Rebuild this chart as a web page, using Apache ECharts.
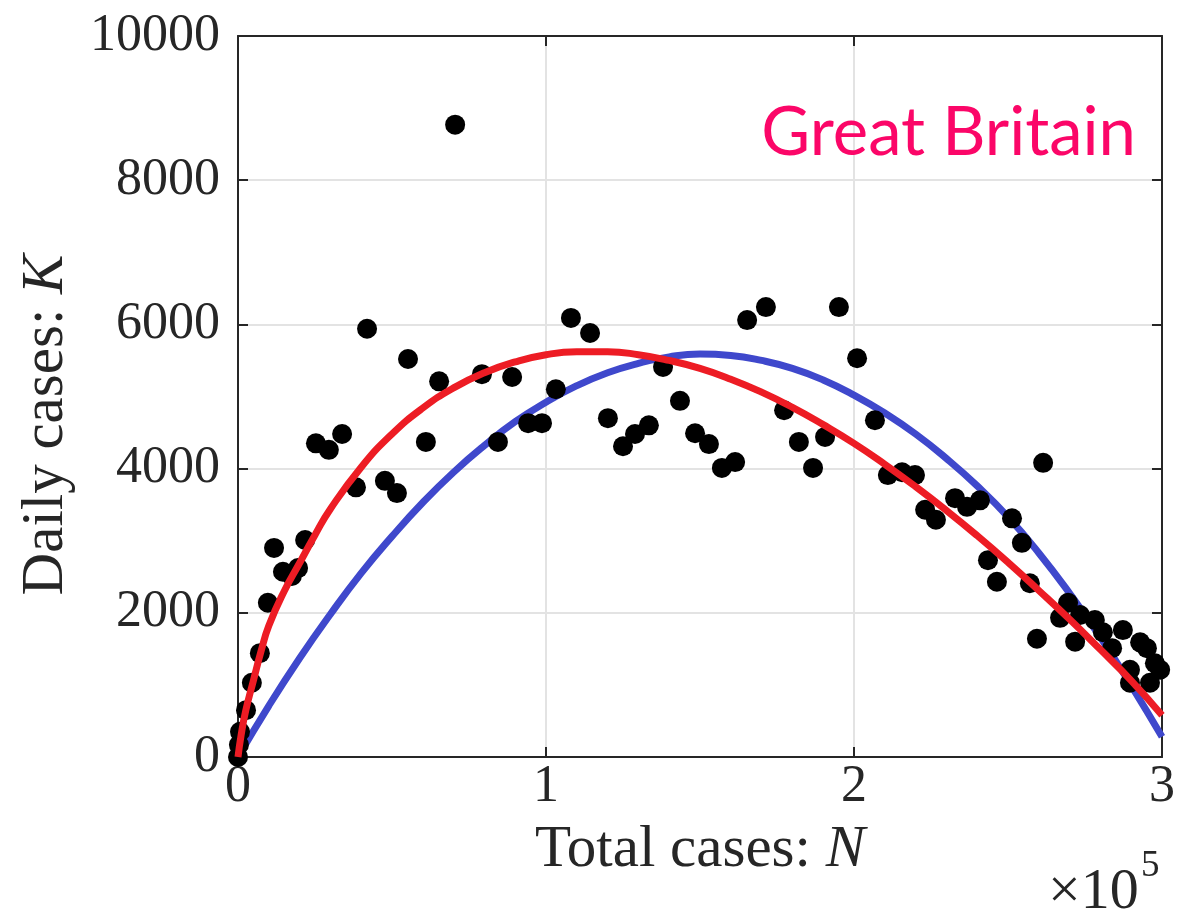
<!DOCTYPE html>
<html>
<head>
<meta charset="utf-8">
<script src="https://cdn.jsdelivr.net/npm/echarts@6/dist/echarts.min.js"></script>
<style>
    html, body { margin: 0; padding: 0; background: #fff; }
    #chart { width: 1178px; height: 917px; }
</style>
</head>
<body>
<div id="chart"></div>
<script>
// observed points: total cases N, daily cases K
var pointsN = [0, 300, 650, 2600, 4500, 7100, 9700, 11700, 14600, 17500, 19500, 21800, 25300, 29500, 33800, 38300, 41900, 47700, 51600, 55200,
    61000, 65300, 70500, 79200, 84400, 89000, 94200, 98700, 103200, 108100, 114300, 120100, 125000, 128900, 133400, 138000, 143500, 148400, 152900, 157100,
    161400, 165300, 171400, 177300, 182100, 186700, 190600, 195100, 201000, 206800, 211000, 215600, 219800, 223100, 226600, 232800, 236700, 240900, 243500, 246400,
    251300, 254500, 257100, 259400, 261400, 266900, 269500, 271800, 273400, 278200, 280800, 283800, 287300, 289600, 289600, 292900, 295100, 296100, 297700, 299400];
var pointsK = [0, 170, 350, 650, 1030, 1440, 2140, 2900, 2570, 2510, 2620, 3010, 4350, 4260, 4480, 3740, 5940, 3830, 3660, 5520,
    4370, 5210, 8770, 5310, 4370, 5270, 4630, 4630, 5100, 6090, 5880, 4700, 4310, 4480, 4600, 5410, 4940, 4490, 4340, 4010,
    4090, 6060, 6240, 4810, 4370, 4010, 4440, 6240, 5530, 4670, 3910, 3950, 3910, 3430, 3290, 3590, 3470, 3560, 2730, 2430,
    3310, 2970, 2410, 1640, 4080, 1930, 2140, 1600, 1970, 1900, 1730, 1510, 1760, 1210, 1030, 1590, 1510, 1030, 1300, 1210];

// blue fitted curve
var blueN = [0, 10000, 20000, 30000, 40000, 50000, 60000, 70000, 80000, 90000, 100000, 110000, 120000, 130000, 140000, 150000,
    160000, 170000, 180000, 190000, 200000, 210000, 220000, 230000, 240000, 250000, 260000, 270000, 280000, 290000, 300000];
var blueK = [0, 710, 1370, 1980, 2550, 3060, 3530, 3950, 4320, 4650, 4920, 5150, 5330, 5460, 5550, 5590,
    5570, 5500, 5390, 5230, 5020, 4770, 4480, 4140, 3760, 3330, 2830, 2270, 1660, 990, 280];

// red fitted curve
var redN = [0, 1000, 2500, 5000, 7500, 10000, 15000, 20000, 25000, 30000, 40000, 50000, 60000, 70000, 80000, 90000, 100000, 110000, 120000,
    130000, 140000, 150000, 160000, 170000, 180000, 190000, 200000, 210000, 220000, 230000, 240000, 250000, 260000, 270000, 280000, 290000, 300000];
var redK = [0, 300, 640, 1060, 1470, 1820, 2300, 2690, 3080, 3440, 4020, 4480, 4840, 5120, 5330, 5480, 5580, 5620, 5620,
    5580, 5500, 5390, 5240, 5060, 4850, 4610, 4350, 4060, 3750, 3420, 3070, 2700, 2310, 1910, 1490, 1060, 580];

var xTicks = ['0', '1', '2', '3'];

function pairs(xs, ys) {
    var out = [];
    for (var i = 0; i < xs.length; i++) out.push([xs[i], ys[i]]);
    return out;
}

var axisColor = '#262626';
var serif = 'Liberation Serif';

var chart = echarts.init(document.getElementById('chart'));
var option = {
    backgroundColor: '#fff',
    animation: false,
    grid: { left: 238, right: 16, top: 36, bottom: 160, outerBoundsMode: 'none' },
    title: {
        text: 'Great Britain',
        right: 37,
        top: 95,
        textStyle: { fontFamily: 'Lato', fontSize: 67, fontWeight: 'normal', color: '#fb0668' }
    },
    xAxis: [
        {
            type: 'value', min: 0, max: 300000, interval: 100000,
            axisLine: { show: true, onZero: false, lineStyle: { color: axisColor, width: 2 } },
            axisTick: { show: true, inside: true, length: 10, lineStyle: { color: axisColor, width: 2 } },
            axisLabel: {
                margin: 4, fontFamily: serif, fontSize: 52, color: axisColor,
                formatter: function (v) { return xTicks[Math.round(v / 100000)]; }
            },
            splitLine: { show: true, lineStyle: { color: '#e3e3e3', width: 2 } },
            name: '{a|Total cases: }{b|N}',
            nameLocation: 'middle',
            nameGap: 64,
            nameTextStyle: {
                rich: {
                    a: { fontFamily: serif, fontSize: 59, color: axisColor },
                    b: { fontFamily: serif, fontSize: 59, fontStyle: 'italic', color: axisColor }
                }
            }
        },
        {
            type: 'value', position: 'top', min: 0, max: 300000, interval: 100000,
            axisLine: { show: true, onZero: false, lineStyle: { color: axisColor, width: 2 } },
            axisTick: { show: true, inside: true, length: 10, lineStyle: { color: axisColor, width: 2 } },
            axisLabel: { show: false },
            splitLine: { show: false }
        }
    ],
    yAxis: [
        {
            type: 'value', min: 0, max: 10000, interval: 2000,
            axisLine: { show: true, onZero: false, lineStyle: { color: axisColor, width: 2 } },
            axisTick: { show: true, inside: true, length: 10, lineStyle: { color: axisColor, width: 2 } },
            axisLabel: {
                margin: 18, fontFamily: serif, fontSize: 52, color: axisColor,
                formatter: function (v) { return String(v); }
            },
            splitLine: { show: true, lineStyle: { color: '#e3e3e3', width: 2 } }
        },
        {
            type: 'value', position: 'right', min: 0, max: 10000, interval: 2000,
            axisLine: { show: true, onZero: false, lineStyle: { color: axisColor, width: 2 } },
            axisTick: { show: true, inside: true, length: 10, lineStyle: { color: axisColor, width: 2 } },
            axisLabel: { show: false },
            splitLine: { show: false }
        }
    ],
    graphic: [
        {
            type: 'text',
            x: 46, y: 425,
            rotation: Math.PI / 2,
            style: {
                text: '{a|Daily cases: }{b|K}',
                align: 'center',
                verticalAlign: 'middle',
                rich: {
                    a: { fontFamily: serif, fontSize: 59, fill: axisColor },
                    b: { fontFamily: serif, fontSize: 59, fontStyle: 'italic', fill: axisColor }
                }
            }
        },
        {
            type: 'text',
            x: 1048, y: 893,
            style: { text: '×10', fontFamily: serif, fontSize: 58, fill: axisColor, align: 'left', verticalAlign: 'middle' }
        },
        {
            type: 'text',
            x: 1141, y: 866,
            style: { text: '5', fontFamily: serif, fontSize: 37, fill: axisColor, align: 'left', verticalAlign: 'middle' }
        }
    ],
    series: [
        {
            name: 'blue fit',
            type: 'line',
            data: pairs(blueN, blueK),
            smooth: true,
            showSymbol: false,
            lineStyle: { color: '#3f48cc', width: 7 },
            z: 2
        },
        {
            name: 'data',
            type: 'scatter',
            data: pairs(pointsN, pointsK),
            symbolSize: 20,
            itemStyle: { color: '#000', opacity: 1 },
            z: 3
        },
        {
            name: 'red fit',
            type: 'line',
            data: pairs(redN, redK),
            smooth: true,
            showSymbol: false,
            lineStyle: { color: '#ed1c24', width: 7 },
            z: 4
        }
    ]
};
chart.setOption(option);
</script>
</body>
</html>
